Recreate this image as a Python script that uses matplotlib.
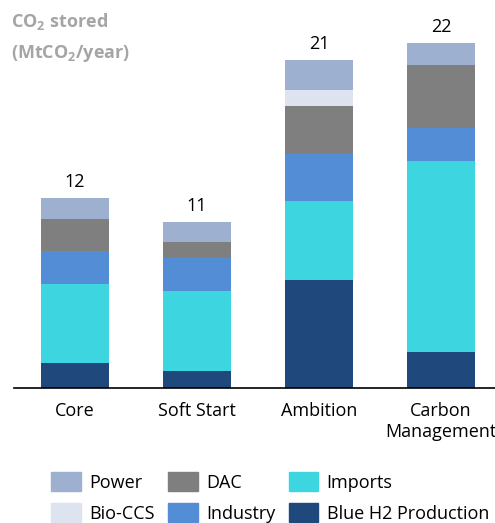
import matplotlib.pyplot as plt
import matplotlib.patches as mpatches
import numpy as np

plt.rcParams['font.family'] = ['Open Sans', 'DejaVu Sans']
plt.rcParams['mathtext.fontset'] = 'custom'
plt.rcParams['mathtext.rm'] = 'Open Sans:bold'
plt.rcParams['mathtext.bf'] = 'Open Sans:bold'

scenarios = ['Core', 'Soft Start', 'Ambition', 'Carbon\nManagement']
totals = ['12', '11', '21', '22']
# stacked from bottom to top
blue_h2 = [1.58, 1.10, 6.89, 2.28]
imports = [5.06, 5.08, 5.04, 12.21]
industry = [2.11, 2.11, 3.02, 2.13]
dac = [2.06, 1.02, 3.04, 4.02]
bio_ccs = [0.0, 0.0, 1.00, 0.0]
power = [1.32, 1.30, 1.96, 1.36]

series = [('Blue H2 Production', blue_h2, '#1F497D'),
          ('Imports', imports, '#3DD5E0'),
          ('Industry', industry, '#538DD5'),
          ('DAC', dac, '#7F7F7F'),
          ('Bio-CCS', bio_ccs, '#DEE4EF'),
          ('Power', power, '#9DB0CF')]

fig = plt.figure(figsize=(4.95, 5.23), dpi=100)
ax = fig.add_axes([14/495, 135/523, 488/495, 376/523])

x = np.arange(len(scenarios))
bottom = np.zeros(len(scenarios))
handles = {}
for name, vals, col in series:
    ax.bar(x, vals, 0.553, bottom=bottom, color=col, edgecolor='none')
    handles[name] = mpatches.Patch(color=col)
    bottom = bottom + np.array(vals)

for xi, top, lab in zip(x, bottom, totals):
    ax.annotate(lab, (xi, top), xytext=(0, 5), textcoords='offset points',
                ha='center', va='bottom', fontsize=13)

ax.set_xlim(-0.5, 3.5)
ax.set_ylim(0, 24)
ax.set_yticks([])
ax.set_xticks(x)
ax.set_xticklabels(scenarios, fontsize=13, linespacing=1.25)
ax.tick_params(axis='x', length=0, pad=10)
for s in ['top', 'right', 'left']:
    ax.spines[s].set_visible(False)
ax.spines['bottom'].set_color('black')
ax.spines['bottom'].set_linewidth(1.2)

fig.text(11/495, 1-22/523, r'CO$_{2}$ stored', fontsize=13, fontweight='bold',
         color='#A5A5A5', va='center', ha='left')
fig.text(11/495, 1-54/523, r'(MtCO$_{2}$/year)', fontsize=13, fontweight='bold',
         color='#A5A5A5', va='center', ha='left')

order = ['Power', 'Bio-CCS', 'DAC', 'Industry', 'Imports', 'Blue H2 Production']
fig.legend([handles[n] for n in order], order, ncol=3, frameon=False,
           loc='upper left', bbox_to_anchor=(51/495, 1-472/523),
           fontsize=13, borderpad=0, borderaxespad=0,
           handlelength=1.65, handleheight=1.25, handletextpad=0.45,
           columnspacing=0.75, labelspacing=0.65)

fig.savefig('out.png', dpi=100)
